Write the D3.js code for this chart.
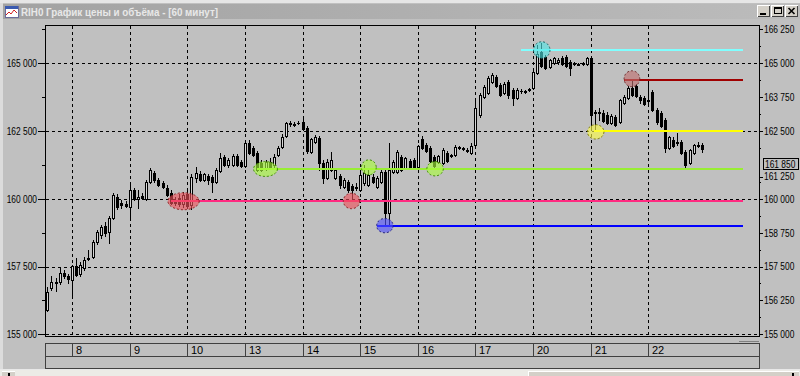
<!DOCTYPE html>
<html>
<head>
<meta charset="utf-8">
<script src="https://cdnjs.cloudflare.com/ajax/libs/d3/7.8.5/d3.min.js"></script>
<style>
    body { margin: 0; background: #c0c0c0; }
    svg { display: block; }
</style>
</head>
<body>
<div id="chart-area"></div>
<script>
/*
*    RIH0 hourly candles with hand drawn support / resistance levels
*/
var title = 'RIH0 График цены и объёма - [60 минут]'

// day separators (candle index where each day starts)
var dayLabels = ['8', '9', '10', '13', '14', '15', '16', '17', '20', '21', '22']
var dayStarts = [6, 20, 34, 48, 62, 76, 90, 104, 118, 132, 146]

// hourly OHLC, one line per trading day (first line = tail of day 7)
var open = [
    155900, 156710, 156890, 156930, 157260, 157150,
    157000, 157520, 157230, 157450, 157820, 157850, 158410, 158660, 159000, 158780, 159290, 160070, 159850, 159810,
    159700, 160330, 159990, 160100, 159990, 160620, 160950, 160690, 160580, 160400, 160210, 159960, 160030, 159810,
    160180, 159770, 160770, 160920, 160690, 160840, 160800, 160620, 161030, 161540, 161250, 161250, 161580, 161360,
    161210, 162060, 161880, 161690, 161320, 161140, 161360, 161250, 161620, 161910, 162320, 162800, 162760, 162800,
    162830, 162610, 161730, 162100, 162240, 161320, 160770, 161060, 160770, 160840, 160440, 160620, 160470, 160440,
    160330, 160580, 160510, 160800, 160440, 160620, 160990, 159480, 160990, 160990, 161540, 161140, 161400, 161430,
    161170, 162210, 161990, 161880, 161540, 161360, 161320, 161690, 161620, 161620, 161910, 161880, 161800, 161690,
    161990, 163090, 163760, 163900, 164310, 164500, 164200, 163900, 164310, 164020, 163720, 163980, 163940, 164020,
    164090, 164640, 165420, 165230, 164860, 165010, 165050, 165200, 165230, 165050, 165010, 164970, 165010, 164970,
    165200, 163200, 163200, 163170, 163090, 162800, 163020, 162830, 163540, 163720, 164090, 164160, 163760, 163720,
    163650, 163940, 163280, 163170, 162910, 161880, 162170, 162100, 162100, 161730, 161320, 161690, 161990, 161990
]
var high = [
    156750, 157150, 157080, 157450, 157370, 157230,
    157560, 157820, 157670, 157850, 158110, 158480, 158850, 159030, 159140, 159370, 160210, 160180, 159960, 159920,
    160510, 160400, 160330, 160210, 160690, 161140, 161030, 160770, 160660, 160510, 160330, 160070, 160180, 160250,
    160330, 160920, 161170, 161030, 160950, 160920, 160880, 161140, 161690, 161620, 161510, 161650, 161650, 161430,
    162130, 162170, 161950, 161760, 161430, 161430, 161510, 161650, 161950, 162390, 162830, 162870, 162830, 162870,
    162950, 162690, 162240, 162350, 162320, 161430, 161470, 161730, 161140, 160920, 160770, 160690, 160550, 160580,
    160990, 161250, 161060, 160920, 160840, 161140, 161060, 162060, 161430, 161800, 161620, 161540, 161470, 161510,
    161990, 162320, 162060, 161950, 161620, 161620, 161880, 161760, 161650, 161990, 161950, 161910, 161880, 162060,
    163650, 163900, 164200, 164530, 164640, 164570, 164270, 164310, 164380, 164090, 164090, 164050, 164020, 164090,
    164750, 165680, 165750, 165310, 165160, 165230, 165200, 165270, 165310, 165120, 165050, 165010, 165050, 165230,
    165270, 163280, 163350, 163280, 163200, 163130, 163090, 163680, 163830, 164160, 164380, 164240, 163830, 163790,
    164380, 164020, 163350, 163240, 162980, 162320, 162280, 162430, 162170, 161800, 161840, 162020, 162100, 162060
]
var low = [
    155860, 156640, 156600, 156860, 157080, 156890,
    156380, 157150, 157150, 157370, 157740, 157820, 158330, 158550, 158630, 158370, 159260, 159620, 159660, 159700,
    159330, 159960, 159660, 159990, 159960, 160580, 160620, 160470, 160400, 160100, 159810, 159770, 159730, 159700,
    159700, 159620, 160620, 160660, 160660, 160550, 160250, 160580, 160990, 161210, 161170, 161210, 161210, 161170,
    161170, 161650, 161580, 161030, 161030, 161060, 161140, 161170, 161580, 161880, 162280, 162690, 162690, 162760,
    162540, 161690, 161690, 162060, 161060, 160580, 160730, 161030, 160730, 160400, 160400, 160250, 159960, 160330,
    160290, 160510, 160470, 160580, 160400, 160580, 159030, 159030, 160950, 160950, 161030, 161100, 161100, 161100,
    161140, 161840, 161730, 161360, 161170, 161320, 161280, 161360, 161540, 161580, 161840, 161800, 161730, 161650,
    161950, 163020, 163720, 163870, 164270, 164130, 163790, 163870, 163720, 163460, 163680, 163900, 163900, 163980,
    164050, 164610, 164860, 164790, 164830, 164970, 164970, 164940, 164860, 164570, 164940, 164940, 164940, 164940,
    162650, 162540, 162910, 162830, 162760, 162760, 162690, 162800, 163500, 163680, 163790, 163760, 163540, 163460,
    163500, 163240, 162760, 162650, 161730, 161840, 161910, 161990, 161650, 161170, 161280, 161650, 161910, 161730
]
var close = [
    156560, 156930, 156930, 157260, 157150, 157040,
    157520, 157190, 157560, 157740, 157780, 158410, 158780, 158960, 158740, 159290, 160140, 159700, 159770, 159730,
    160330, 159990, 160070, 160030, 160620, 161060, 160690, 160510, 160440, 160140, 159850, 159850, 159810, 160140,
    159730, 160800, 160950, 160690, 160920, 160690, 160620, 161060, 161510, 161250, 161430, 161580, 161250, 161210,
    162060, 161690, 161620, 161060, 161060, 161360, 161170, 161540, 161880, 162280, 162800, 162760, 162720, 162790,
    162580, 161760, 162210, 162280, 161320, 160770, 161360, 161430, 161060, 160510, 160690, 160330, 160330, 160400,
    160880, 160950, 160880, 160620, 160770, 160990, 159480, 161060, 161360, 161730, 161060, 161510, 161140, 161140,
    161950, 161880, 161760, 161400, 161210, 161580, 161800, 161400, 161580, 161910, 161880, 161840, 161760, 161950,
    163350, 163830, 164130, 164460, 164570, 164160, 163830, 164240, 163830, 163720, 164020, 163980, 163980, 164050,
    164680, 165340, 164900, 164830, 165120, 165200, 165120, 164970, 164900, 164830, 164970, 164990, 164970, 165200,
    163090, 163170, 163170, 162870, 162800, 163060, 162720, 163650, 163760, 164090, 163830, 163790, 163650, 163500,
    163610, 163280, 162830, 162690, 161880, 162280, 161950, 162060, 161690, 161250, 161800, 161990, 161950, 161850
]

// price axis ticks
var leftMajor = [155000, 157500, 160000, 162500, 165000]
var leftMinor = [156250, 158750, 161250, 163750, 166250]
var rightMajor = [155000, 156250, 157500, 158750, 160000, 161250, 162500, 163750, 165000, 166250]
var rightMinor = [155625, 156875, 158125, 159375, 160625, 161875, 163125, 164375, 165625]

// horizontal levels: price, first candle, colour
var levelPrice = [165490, 164380, 162490, 161100, 159920, 159000]
var levelStart = [115, 140, 132.8, 51, 30, 80]
var levelEnd = 169
var levelColor = ['#80ffff', '#a00000', '#ffff00', '#99ee33', '#ff2a80', '#0000ff']

// marked points: candle index, price, half width (bars), half height (price)
var markIndex = [33.1, 53, 73.9, 78.1, 82, 94.2, 120.1, 142, 133.2]
var markPrice = [159910, 161100, 159920, 161160, 159010, 161110, 165490, 164430, 162470]
var markSpan = [3.8, 2.9, 2.0, 1.8, 2.0, 2.0, 2.0, 1.9, 2.0]
var markRange = [315, 275, 285, 277, 265, 265, 305, 295, 265]
var markKind = ['red', 'green', 'red', 'green', 'blue', 'green', 'cyan', 'brown', 'yellow']

var markStyle = {
    red:    { fill: 'rgba(240,80,90,0.62)',  stroke: '#8a2020' },
    green:  { fill: 'rgba(170,255,60,0.62)', stroke: '#3c8a00' },
    blue:   { fill: 'rgba(80,80,255,0.62)',  stroke: '#20207a' },
    cyan:   { fill: 'rgba(80,230,230,0.62)', stroke: '#206a6a' },
    brown:  { fill: 'rgba(190,110,110,0.62)', stroke: '#6a2a2a' },
    yellow: { fill: 'rgba(255,255,70,0.62)', stroke: '#7a7a00' }
}

var fontAxis = "'Liberation Sans', Arial, sans-serif"
var squeeze = 0.8   // terminal font is narrower than Liberation Sans

var W = 800
var H = 376
var plot = { left: 45, top: 25, right: 759, bottom: 336 }

var svg = d3.select('#chart-area')
    .append('svg')
        .attr('width', W)
        .attr('height', H)
        .attr('shape-rendering', 'crispEdges')

// ---- window chrome ----
svg.append('rect').attr('width', W).attr('height', H).attr('fill', '#c0c0c0')
svg.append('rect').attr('width', W).attr('height', 3).attr('fill', '#e6e6e6')
svg.append('rect').attr('x', 0).attr('y', 3).attr('width', 3).attr('height', 366).attr('fill', '#dcdcdc')

var grad = svg.append('defs').append('linearGradient').attr('id', 'tb')
grad.append('stop').attr('offset', '0%').attr('stop-color', '#a2a2a2')
grad.append('stop').attr('offset', '100%').attr('stop-color', '#bcbcbc')

svg.append('rect')
    .attr('x', 3).attr('y', 4)
    .attr('width', 797).attr('height', 15)
    .attr('fill', 'url(#tb)')

// title icon
var icon = svg.append('g').attr('transform', 'translate(5,6)')
icon.append('rect').attr('width', 13).attr('height', 11).attr('fill', '#ffffff').attr('stroke', '#6a6a9a')
icon.append('rect').attr('width', 13).attr('height', 3).attr('fill', '#3a5ab0')
icon.append('polyline')
    .attr('points', '1,9 4,6 6,8 9,4 12,7')
    .attr('fill', 'none')
    .attr('stroke', '#d02020')
    .attr('shape-rendering', 'auto')

svg.append('text')
    .attr('x', 21)
    .attr('y', 16)
    .attr('fill', '#e8e8e8')
    .attr('font-family', "'Liberation Sans', Arial, sans-serif")
    .attr('font-weight', 'bold')
    .attr('font-size', '11px')
    .attr('textLength', 197)
    .attr('lengthAdjust', 'spacingAndGlyphs')
    .text(title)

// caption buttons
var btnGlyph = ['min', 'max', 'close']
var btn = svg.selectAll('.btn')
    .data(btnGlyph)
    .enter().append('g')
        .attr('class', 'btn')
        .attr('transform', (d, i) => `translate(${757 + i * 14}, 5)`)

btn.append('rect').attr('width', 13).attr('height', 12).attr('fill', '#d4d0c8')
btn.append('path').attr('d', 'M0.5,11.5 V0.5 H12.5').attr('fill', 'none').attr('stroke', '#ffffff')
btn.append('path').attr('d', 'M0.5,11.5 H12.5 V0.5').attr('fill', 'none').attr('stroke', '#404040')
btn.filter(d => d === 'min').append('rect').attr('x', 3).attr('y', 8).attr('width', 6).attr('height', 2).attr('fill', '#000')
btn.filter(d => d === 'max').append('rect')
    .attr('x', 3.5).attr('y', 2.5).attr('width', 7).attr('height', 6)
    .attr('fill', 'none').attr('stroke', '#000')
btn.filter(d => d === 'max').append('rect').attr('x', 3).attr('y', 2).attr('width', 8).attr('height', 2).attr('fill', '#000')
btn.filter(d => d === 'close').append('path')
    .attr('d', 'M3.5,3 L9.5,9 M9.5,3 L3.5,9')
    .attr('stroke', '#000').attr('stroke-width', 1.6)
    .attr('shape-rendering', 'auto')

// X Scale (candle index -> pixel)
var x = d3.scaleLinear()
    .domain([0, 159])
    .range([47.3, 701.9])

// Y Scale
var y = d3.scaleLinear()
    .domain([155000, 165000])
    .range([334.3, 63.3])

var px = i => Math.round(x(i))
var py = p => Math.round(y(p))

var g = svg.append('g')

// grid
g.selectAll('.hgrid')
    .data(leftMajor)
    .enter().append('line')
        .attr('x1', plot.left + 1)
        .attr('x2', plot.right)
        .attr('y1', d => py(d) + 0.5)
        .attr('y2', d => py(d) + 0.5)
        .attr('stroke', '#000')
        .attr('stroke-dasharray', '3,3')

g.selectAll('.vgrid')
    .data(dayStarts)
    .enter().append('line')
        .attr('x1', d => px(d) + 0.5)
        .attr('x2', d => px(d) + 0.5)
        .attr('y1', plot.top + 1)
        .attr('y2', plot.bottom)
        .attr('stroke', '#000')
        .attr('stroke-dasharray', '3,3')

// candles
var candles = g.selectAll('.candle')
    .data(open.map((o, i) => ({ i: i, o: o, h: high[i], l: low[i], c: close[i] })))
    .enter().append('g')
        .attr('class', 'candle')

candles.append('line')
    .attr('x1', d => px(d.i) + 0.5)
    .attr('x2', d => px(d.i) + 0.5)
    .attr('y1', d => py(d.h))
    .attr('y2', d => py(d.l) + 1)
    .attr('stroke', '#000')

candles.filter(d => d.c > d.o).append('rect')
    .attr('x', d => px(d.i) - 0.5)
    .attr('y', d => py(d.c) + 0.5)
    .attr('width', 2)
    .attr('height', d => Math.max(1, py(d.o) - py(d.c)))
    .attr('fill', '#d6d6d6')
    .attr('stroke', '#000')

candles.filter(d => d.c <= d.o).append('rect')
    .attr('x', d => px(d.i) - 1)
    .attr('y', d => py(d.o))
    .attr('width', 3)
    .attr('height', d => Math.max(1, py(d.c) - py(d.o) + 1))
    .attr('fill', '#000')

// levels
g.selectAll('.level')
    .data(levelPrice)
    .enter().append('rect')
        .attr('class', 'level')
        .attr('x', (d, i) => px(levelStart[i]))
        .attr('y', d => py(d) - 1)
        .attr('width', (d, i) => px(levelEnd) - px(levelStart[i]))
        .attr('height', 2)
        .attr('fill', (d, i) => levelColor[i])

// marked points
g.selectAll('.mark')
    .data(markIndex)
    .enter().append('ellipse')
        .attr('class', 'mark')
        .attr('cx', d => x(d))
        .attr('cy', (d, i) => y(markPrice[i]))
        .attr('rx', (d, i) => x(d + markSpan[i]) - x(d))
        .attr('ry', (d, i) => y(markPrice[i] - markRange[i]) - y(markPrice[i]))
        .attr('fill', (d, i) => markStyle[markKind[i]].fill)
        .attr('stroke', (d, i) => markStyle[markKind[i]].stroke)
        .attr('stroke-dasharray', '2,2')
        .attr('shape-rendering', 'auto')

// frame
g.append('rect')
    .attr('x', plot.left + 0.5)
    .attr('y', plot.top + 0.5)
    .attr('width', plot.right - plot.left)
    .attr('height', plot.bottom - plot.top)
    .attr('fill', 'none')
    .attr('stroke', '#000')

var fmt = v => d3.format(',')(v).replace(',', ' ')

// squeeze price labels horizontally (x is divided so the anchor stays put)
function narrowText (sel) {
    sel.attr('font-family', fontAxis)
        .attr('font-size', '10.5px')
        .attr('fill', '#000')
        .attr('x', function () { return +d3.select(this).attr('x') / squeeze })
        .attr('transform', `scale(${squeeze}, 1)`)
}

function styleAxis (sel) {
    sel.select('.domain').remove()
    sel.selectAll('text').call(narrowText)
    sel.selectAll('line').attr('stroke', '#000')
}

// Left axis
g.append('g')
    .attr('transform', `translate(${plot.left}, 0)`)
    .call(d3.axisLeft(y).tickValues(leftMajor).tickSize(7).tickPadding(1).tickFormat(fmt))
    .call(styleAxis)

g.append('g')
    .attr('transform', `translate(${plot.left}, 0)`)
    .call(d3.axisLeft(y).tickValues(leftMinor).tickSize(3).tickFormat(''))
    .call(styleAxis)

// Right axis
var lastPrice = close[close.length - 1]
var boxY = py(lastPrice) + 16

var rightAxis = g.append('g')
    .attr('transform', `translate(${plot.right}, 0)`)
    .call(d3.axisRight(y).tickValues(rightMajor).tickSize(4).tickPadding(1).tickFormat(fmt))
    .call(styleAxis)

// push a label down when it collides with the last price box
rightAxis.selectAll('.tick')
    .filter(d => Math.abs(y(d) - boxY) < 9)
    .attr('transform', d => `translate(0, ${py(d) + 12})`)

g.append('g')
    .attr('transform', `translate(${plot.right}, 0)`)
    .call(d3.axisRight(y).tickValues(rightMinor).tickSize(2).tickFormat(''))
    .call(styleAxis)

// last price box
g.append('rect')
    .attr('x', 763.5)
    .attr('y', boxY - 6.5)
    .attr('width', 35)
    .attr('height', 11)
    .attr('fill', '#c0c0c0')
    .attr('stroke', '#000')

g.append('text')
    .attr('x', 765)
    .attr('y', boxY + 3.5)
    .call(narrowText)
    .text(fmt(lastPrice))

// ---- date strip ----
var strip = { top: 343, mid: 356, bottom: 368 }

g.append('rect')
    .attr('x', plot.left + 0.5)
    .attr('y', strip.top + 0.5)
    .attr('width', plot.right - plot.left)
    .attr('height', strip.bottom - strip.top)
    .attr('fill', 'none')
    .attr('stroke', '#404040')

g.append('line')
    .attr('x1', plot.left)
    .attr('x2', plot.right)
    .attr('y1', strip.mid + 0.5)
    .attr('y2', strip.mid + 0.5)
    .attr('stroke', '#404040')

g.append('line')
    .attr('x1', plot.right - 20)
    .attr('x2', plot.right)
    .attr('y1', strip.top - 1.5)
    .attr('y2', strip.top - 1.5)
    .attr('stroke', '#808080')

g.selectAll('.daysep')
    .data(dayStarts)
    .enter().append('line')
        .attr('x1', d => px(d) + 0.5)
        .attr('x2', d => px(d) + 0.5)
        .attr('y1', strip.top)
        .attr('y2', strip.mid)
        .attr('stroke', '#404040')

g.selectAll('.daylabel')
    .data(dayLabels)
    .enter().append('text')
        .attr('x', (d, i) => px(dayStarts[i]) + 4)
        .attr('y', strip.mid - 2)
        .attr('font-family', fontAxis)
        .attr('font-size', '11px')
        .text(d => d)

// ---- scrollbar ----
svg.append('rect').attr('x', 0).attr('y', 369).attr('width', W).attr('height', 1).attr('fill', '#e8e8e8')
svg.append('rect').attr('x', 0).attr('y', 370).attr('width', W).attr('height', 6).attr('fill', '#ecebe6')
svg.append('rect').attr('x', 528).attr('y', 371).attr('width', 258).attr('height', 5).attr('fill', '#d4d0c8')
svg.append('rect').attr('x', 528).attr('y', 371).attr('width', 258).attr('height', 1).attr('fill', '#ffffff')
svg.append('rect').attr('x', 528).attr('y', 371).attr('width', 1).attr('height', 5).attr('fill', '#ffffff')
svg.append('rect').attr('x', 2).attr('y', 371).attr('width', 13).attr('height', 5).attr('fill', '#d4d0c8')
svg.append('rect').attr('x', 2).attr('y', 371).attr('width', 13).attr('height', 1).attr('fill', '#ffffff')
svg.append('rect').attr('x', 786).attr('y', 371).attr('width', 13).attr('height', 5).attr('fill', '#d4d0c8')
svg.append('rect').attr('x', 786).attr('y', 371).attr('width', 13).attr('height', 1).attr('fill', '#ffffff')
svg.append('rect').attr('x', 8).attr('y', 373).attr('width', 2).attr('height', 3).attr('fill', '#000')
svg.append('rect').attr('x', 792).attr('y', 373).attr('width', 2).attr('height', 3).attr('fill', '#000')
</script>
</body>
</html>
